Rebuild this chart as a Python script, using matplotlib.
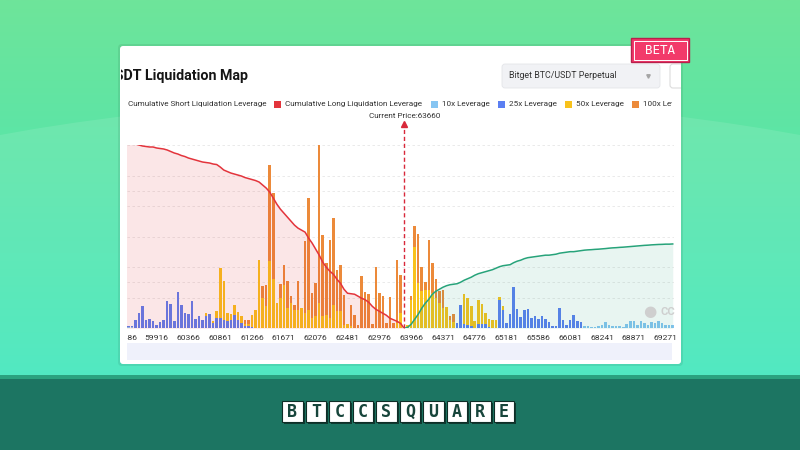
import numpy as np
import matplotlib
matplotlib.use("Agg")
import matplotlib.pyplot as plt
from matplotlib.patches import Rectangle, FancyBboxPatch, Ellipse
from matplotlib.transforms import blended_transform_factory

plt.rcParams['font.family'] = ['Roboto', 'DejaVu Sans']

# ---- data (arbitrary height units) ----
price_labels = ["59486", "59916", "60366", "60861", "61266", "61671", "62076", "62481",
                "62976", "63966", "64371", "64776", "65181", "65586", "66081", "68241",
                "68871", "69271"]
label_step = 9          # every 9th price category carries a label
current_price = 63660
current_idx = 79

lev10 = ([0, 1, 1, 0, 0, 0, 0, 0, 0, 0] + [0] * 120 +
         [2, 2, 1, 1, 2, 3, 6, 3, 2, 2,
          2, 1, 4, 7, 7, 3, 7, 5, 3, 6,
          5, 7, 5, 3, 3, 3])

lev25 = ([2, 1, 1, 8, 15, 22, 8, 9, 7, 3,
          6, 8, 27, 24, 7, 36, 23, 15, 14, 27,
          9, 12, 8, 12, 14, 5, 10, 10, 8, 7,
          8, 13, 8, 5, 2, 2, 1, 0, 0, 0] + [0] * 50 +
         [0, 0, 0, 0, 5, 23, 4, 3, 2, 0,
          4, 4, 4, 1, 0, 0, 28, 18, 5, 14,
          41, 19, 11, 18, 19, 10, 12, 9, 12, 9,
          6, 2, 2, 20, 8, 3, 8, 13, 7, 6] + [0] * 26)

lev50 = ([0] * 20 +
         [0, 0, 0, 3, 0, 2, 7, 50, 39, 8,
          6, 10, 8, 7, 2, 2, 12, 18, 68, 30,
          22, 67, 49, 25, 30, 43, 20, 25, 18, 18,
          20, 15, 18, 10, 12, 25, 12, 13, 10, 23,
          17, 17, 3, 4, 2, 0, 0, 0, 0, 0,
          0, 0, 0, 0, 0, 0, 0, 5, 15, 0,
          3, 28, 81, 45, 37, 38, 38, 35, 30, 25,
          20, 21, 8, 6, 0, 0, 30, 27, 20, 7,
          24, 20, 11, 8, 8, 8, 3, 4, 0, 0] + [0] * 46)

lev100 = ([0] * 30 +
          [0, 0, 0, 0, 4, 4, 0, 0, 0, 12,
           21, 96, 86, 0, 14, 20, 27, 7, 5, 29,
           0, 72, 112, 25, 33, 160, 81, 52, 78, 87,
           41, 46, 30, 0, 21, 13, 3, 52, 36, 34,
           4, 61, 35, 32, 5, 31, 5, 63, 38, 0,
           0, 4, 21, 49, 24, 8, 50, 30, 19, 12,
           18, 0, 4, 8, 0, 0, 0, 0, 0, 0] + [0] * 56)

# cumulative long liquidation, categories 0 .. current_idx
long_cum = [184, 184, 184, 184, 183, 182, 181.5, 181, 181, 180,
            179.5, 179, 178, 176.5, 175, 174, 172.5, 171.5, 170, 169,
            168, 167, 166, 165.5, 165, 164, 163.5, 161, 158, 156.5,
            155, 154, 153, 152, 150.5, 149.5, 148.5, 147.5, 146, 143,
            140, 136, 130, 124, 119, 115, 111, 107, 103, 100,
            98, 96, 90, 85, 79, 73, 66, 61, 57, 54,
            49, 45, 39, 35, 34.5, 34, 32, 30, 28.5, 26,
            22, 19, 17, 15, 13, 10, 8.5, 7, 5, 0]

# cumulative short liquidation, categories current_idx .. end
short_cum = [0, 1, 4, 9, 14, 20, 25, 29, 34, 37,
             39, 41, 42.5, 43.5, 44, 44.5, 46, 48, 49.5, 51,
             53, 54.5, 55.5, 56.5, 57.5, 58.5, 60, 61.5, 62.5, 63,
             63.5, 65.5, 67, 68, 69.5, 70.5, 71, 71.5, 72, 72.5,
             73, 73, 73.5, 74, 75, 75.5, 76, 76.5, 76.5, 77,
             77.5, 78, 78.3, 78.5, 78.8, 79, 79.3, 79.6, 80, 80.3,
             80.5, 80.8, 81, 81.3, 81.6, 81.9, 82.2, 82.5, 82.8, 83,
             83.3, 83.5, 83.7, 83.8, 84, 84, 84.2]

legend_labels = ["Cumulative Short Liquidation Leverage", "Cumulative Long Liquidation Leverage",
                 "10x Leverage", "25x Leverage", "50x Leverage", "100x Leverage"]

c10, c25, c50, c100 = "#86c5f2", "#5b7ff2", "#f8c21c", "#ec8a3a"
c_long, c_short = "#e3343c", "#27a37a"

n = len(lev10)
idx = np.arange(n)
ymax = 183

fig = plt.figure(figsize=(8, 4.5), dpi=100)

# ---- background / frame ----
bg = fig.add_axes([0, 0, 1, 1])
top = np.array([0x6e, 0xe4, 0x9a]) / 255
bot = np.array([0x3e, 0xe7, 0xbb]) / 255
t = np.linspace(0, 1, 200)[:, None, None]
bg.imshow(top * (1 - t) + bot * t, extent=(0, 800, 380, 0), aspect='auto', zorder=0)
bg.add_patch(Ellipse((400, 436), 1800, 672, fc='white', ec='none', alpha=0.10, zorder=1))
bg.add_patch(Rectangle((0, 375), 800, 5, fc='#2ba27f', ec='none', zorder=1))
bg.add_patch(Rectangle((0, 379), 800, 71, fc='#1c7562', ec='none', zorder=1))
bg.add_patch(FancyBboxPatch((118, 44), 565, 322, boxstyle='round,pad=0,rounding_size=4',
                            fc='black', ec='none', alpha=0.07, zorder=2))
card = FancyBboxPatch((120, 46), 561, 318, boxstyle='round,pad=0,rounding_size=3',
                      fc='white', ec='none', zorder=3)
bg.add_patch(card)
bg.add_patch(Rectangle((127, 343), 545, 17, fc='#eff1fb', ec='none', zorder=4))

clip = Rectangle((121, 40), 551, 300, transform=bg.transData)
title = bg.text(248, 76, "BTC/USDT Liquidation Map", ha='right', va='center', fontsize=10.3,
                fontweight='bold', color='#151515', zorder=5, clip_on=True)
title.set_clip_path(clip)

bg.add_patch(FancyBboxPatch((502, 64), 158, 24, boxstyle='round,pad=0,rounding_size=3',
                            fc='#f1f2f5', ec='#e3e5e9', lw=0.6, zorder=4))
bg.text(509, 76, "Bitget BTC/USDT Perpetual", va='center', fontsize=6.4, color='#333333', zorder=5)
bg.plot(648, 76, marker='v', ms=2.5, color='#a5a5a5', zorder=5)
box = FancyBboxPatch((670, 64), 30, 24, boxstyle='round,pad=0,rounding_size=3',
                     fc='white', ec='#dcdcdc', lw=0.8, zorder=4)
bg.add_patch(box)
box.set_clip_path(card)

# legend row
t1 = bg.text(266, 104, legend_labels[0], ha='right', va='center', fontsize=5.9,
             color='#333333', zorder=5, clip_on=True)
t1.set_clip_path(clip)
sq_x = [277, 434, 501, 568, 635]
for x, lab, col in zip(sq_x, legend_labels[1:], [c_long, c10, c25, c50, c100]):
    bg.add_patch(Rectangle((x - 3.5, 100.5), 7, 7, fc=col, ec='none', zorder=5))
    tl = bg.text(x + 8, 104, lab, va='center', fontsize=5.9, color='#333333', zorder=5, clip_on=True)
    tl.set_clip_path(clip)
bg.text(404.5, 116, "Current Price:%d" % current_price, ha='center', va='center',
        fontsize=5.9, color='#333333', zorder=5)

# BETA badge
bg.add_patch(Rectangle((631, 38), 58, 24, fc='#f23a6a', ec='#b8204c', lw=1, zorder=10))
bg.add_patch(Rectangle((633.5, 40.5), 53, 19, fc='none', ec='white', lw=0.7, zorder=11))
bg.text(660, 50.5, "BETA", ha='center', va='center', fontsize=9, color='white',
        family='DejaVu Sans Mono', zorder=12)

# BTCCSQUARE logo
for k, ch in enumerate("BTCCSQUARE"):
    x0 = 282 + k * 23.5
    bg.add_patch(Rectangle((x0 + 2, 403), 20.5, 21, fc='#0e3a31', ec='none', zorder=5))
    bg.add_patch(Rectangle((x0, 401), 20.5, 21, fc='white', ec='#0e2e27', lw=0.8, zorder=6))
    bg.text(x0 + 10.25, 411.8, ch, ha='center', va='center', fontsize=12, fontweight='bold',
            family='DejaVu Sans Mono', color='#17453b', zorder=7)

bg.set_xlim(0, 800)
bg.set_ylim(450, 0)
bg.axis('off')

# ---- chart ----
px_l = 124.8 + 3.535 * 0.5
ax = fig.add_axes([px_l / 800, (450 - 328.3) / 450, 3.535 * (n - 1) / 800, 183.3 / 450])
ax.patch.set_alpha(0)

b1 = np.array(lev10, float)
b2 = b1 + np.array(lev25)
b3 = b2 + np.array(lev50)
w = 0.72
ax.bar(idx, lev10, width=w, color=c10, zorder=1)
ax.bar(idx, lev25, width=w, bottom=b1, color=c25, zorder=1)
ax.bar(idx, lev50, width=w, bottom=b2, color=c50, zorder=1)
ax.bar(idx, lev100, width=w, bottom=b3, color=c100, zorder=1)

li = idx[:current_idx + 1]
si = idx[current_idx:]
ax.fill_between(li, long_cum, color=c_long, alpha=0.12, lw=0, zorder=1.5)
ax.fill_between(si, short_cum, color=c_short, alpha=0.10, lw=0, zorder=1.5)
ax.plot(li, long_cum, color=c_long, lw=1.1, zorder=3)
ax.plot(si, short_cum, color=c_short, lw=1.1, zorder=3)

ax.plot([current_idx, current_idx], [0, ymax + 21], ls=(0, (3, 2)), color='#d8283a',
        lw=1, zorder=4, clip_on=False)
ax.plot(current_idx, ymax + 21, marker='^', ms=4.5, color='#d8283a', zorder=4, clip_on=False)

ax.text(148.6, 16, "\u25cf", ha='center', va='center', fontsize=11, color='#cfcfcf', zorder=2)
ax.text(151.5, 16, "CC", va='center', fontsize=8, fontweight='bold', color='#cfcfcf', zorder=2)

ax.set_xlim(0.5, n - 0.5)
ax.set_ylim(0, ymax)
ax.set_yticks(np.linspace(0, ymax, 7))
ax.set_yticks(np.linspace(0, ymax, 5), minor=True)
ax.grid(axis='y', which='both', color='#e6e6e6', ls=(0, (3, 3)), lw=0.6)
ax.set_axisbelow(True)
ax.tick_params(left=False, labelleft=False, bottom=False, labelbottom=False, which='both')
for s in ax.spines.values():
    s.set_visible(False)

# x labels on price categories
lab_clip = Rectangle((126.5, 330), 552, 16, transform=bg.transData)
trans = blended_transform_factory(ax.transData, bg.transData)
for k, lab in enumerate(price_labels):
    tl = bg.text(k * label_step, 338, lab, transform=trans, ha='center', va='center',
                 fontsize=6.1, color='#333333', zorder=6, clip_on=True)
    tl.set_clip_path(lab_clip)

fig.savefig("out.png", dpi=100)
